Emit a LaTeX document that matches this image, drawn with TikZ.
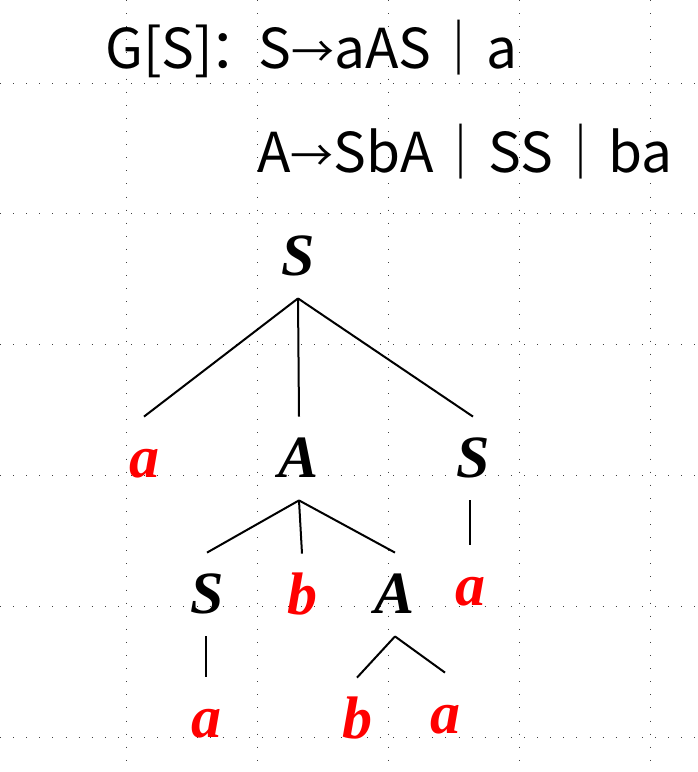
\documentclass[tikz,border=0pt]{standalone}
\usepackage{fontspec}
\newfontfamily\rulefont{Noto Sans CJK SC}
\newfontfamily\treefont{Liberation Serif}
\newcommand\prodarrow{\raisebox{0.5pt}{\scalebox{0.78}{→}}}
\tikzset{
  griddot/.style={line width=0.5pt, dash pattern=on 0.5pt off 6.05pt, black!75},
  rt/.style={font=\rulefont\fontsize{27.5}{33}\selectfont, inner sep=0pt, anchor=base west},
  tn/.style={font=\treefont\bfseries\itshape\fontsize{30}{36}\selectfont, inner xsep=0pt, inner ysep=11.5pt, text height=18.5pt, text depth=0pt, anchor=base},
  tt/.style={tn, text=red},
  br/.style={line width=1pt}
}
\begin{document}
\begin{tikzpicture}[x=0.5pt,y=-0.5pt]
\useasboundingbox (0,0) rectangle (697,772);
\foreach \gy in {83,213,344,475,606,737}
  \draw[griddot] (0,\gy) -- (697,\gy);
\foreach \gx in {126,257,388,519,650}
  \draw[griddot] (\gx,0) -- (\gx,772);

\node[rt] (gs) at (105,68) {G[S]\kern-2pt：};
\node[rt] (r1) at (258,68) {S\prodarrow aAS｜a};
\node[rt] (r2) at (257,172) {A\prodarrow SbA｜SS｜ba};

\node[tn] (s0) at (298,275) {S};
\node[tt] (a1) at (144,477) {a};
\node[tn] (aa1) at (299,477) {A};
\node[tn] (s1) at (473,477) {S};
\node[tn] (s2) at (207,613) {S};
\node[tt] (b2) at (302,614) {b};
\node[tn] (aa2) at (395,613) {A};
\node[tt] (a2) at (470,605) {a};
\node[tt] (a3) at (206,737) {a};
\node[tt] (b3) at (357,738) {b};
\node[tt] (a4) at (445,733) {a};

\draw[br] (s0.south) -- (a1.north);
\draw[br] (s0.south) -- (aa1.north);
\draw[br] (s0.south) -- (s1.north);
\draw[br] (aa1.south) -- (s2.north);
\draw[br] (aa1.south) -- (b2.north);
\draw[br] (aa1.south) -- (aa2.north);
\draw[br] (a2.north |- s1.south) -- (a2.north);
\draw[br] (a3.north |- s2.south) -- (a3.north);
\draw[br] (aa2.south) -- (b3.north);
\draw[br] (aa2.south) -- (a4.north);
\end{tikzpicture}
\end{document}
